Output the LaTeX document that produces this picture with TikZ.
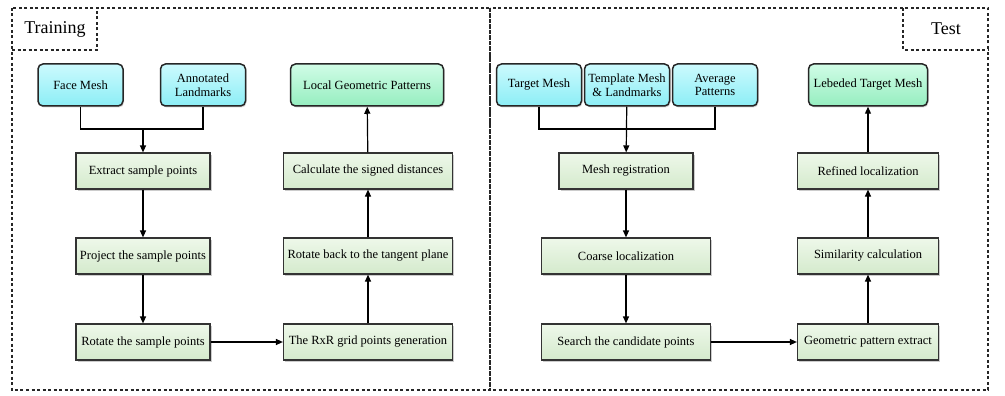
\documentclass[tikz,border=0pt]{standalone}
\usepackage{fontspec}
\setmainfont{Liberation Serif}
\usetikzlibrary{shadows,arrows.meta}
\definecolor{intop}{HTML}{CCFAFD}
\definecolor{inbot}{HTML}{8CEEF6}
\definecolor{outtop}{HTML}{D0FCE6}
\definecolor{outbot}{HTML}{96EEC0}
\definecolor{steptop}{HTML}{EEF8EA}
\definecolor{stepbot}{HTML}{D4EACC}

\begin{document}
\begin{tikzpicture}[x=1pt,y=-1pt,
    every node/.style={font=\fontsize{12.5}{13.5}\selectfont, align=center, inner sep=1pt},
    frame/.style={dash pattern=on 3pt off 2.5pt, line width=1.1pt, black!85},
    inbox/.style={draw=black!85, line width=1.5pt, rounded corners=5pt,
        top color=intop, bottom color=inbot, minimum width=85pt, minimum height=42pt,
        drop shadow={shadow xshift=1pt, shadow yshift=-1.5pt, opacity=0.35}},
    outbox/.style={inbox, top color=outtop, bottom color=outbot},
    stepbox/.style={draw=black!80, line width=1.2pt, top color=steptop, bottom color=stepbot,
        minimum height=36pt,
        drop shadow={shadow xshift=1.5pt, shadow yshift=-1.5pt, opacity=0.4}},
    arr/.style={-{Triangle[length=7pt,width=6pt]}, line width=1.2pt},
    link/.style={line width=1.2pt}]

    \useasboundingbox (0,0) rectangle (1005,396);

    % frames
    \draw[frame] (12,8) rectangle (490,390);
    \draw[frame] (490,8) rectangle (988,390);
    \draw[frame] (12,50) -- (97,50) -- (97,8);
    \draw[frame] (903,8) -- (903,50) -- (988,50);
    \node at (55,29) (train) {\fontsize{18}{19}\selectfont Training};
    \node at (946,29) (test) {\fontsize{18}{19}\selectfont Test};

    % training
    \node[inbox] at (80.5,85) (face) {Face Mesh};
    \node[inbox] at (203,85) (annot) {Annotated\\Landmarks};
    \node[outbox, minimum width=153pt] at (367,85) (local) {Local Geometric Patterns};
    \node[stepbox, minimum width=134pt] at (143,171) (extract) {Extract sample points};
    \node[stepbox, minimum width=134pt] at (143,256) (project) {Project the sample points};
    \node[stepbox, minimum width=134pt] at (143,342) (rotate) {Rotate the sample points};
    \node[stepbox, minimum width=169pt] at (368,342) (grid) {The RxR grid points generation};
    \node[stepbox, minimum width=169pt] at (368,256) (back) {Rotate back to the tangent plane};
    \node[stepbox, minimum width=169pt] at (368,171) (signed) {Calculate the signed distances};

    \coordinate (tj) at (143,129);
    \draw[link] (face) |- (tj);
    \draw[link] (annot) |- (tj);
    \draw[arr] (tj) -- (extract);
    \draw[arr] (extract) -- (project);
    \draw[arr] (project) -- (rotate);
    \draw[arr] (rotate) -- (grid);
    \draw[arr] (grid) -- (back);
    \draw[arr] (back) -- (signed);
    \draw[arr] (signed) -- (local);

    % test
    \node[inbox] at (539,85) (target) {Target Mesh};
    \node[inbox] at (627,85) (templ) {Template Mesh\\\& Landmarks};
    \node[inbox] at (715,85) (avg) {Average\\Patterns};
    \node[outbox, minimum width=119pt] at (868,85) (label) {Lebeded Target Mesh};
    \node[stepbox, minimum width=134pt] at (626,171) (reg) {Mesh registration};
    \node[stepbox, minimum width=169pt] at (626,256) (coarse) {Coarse localization};
    \node[stepbox, minimum width=169pt] at (626,342) (search) {Search the candidate points};
    \node[stepbox, minimum width=141pt] at (868,342) (extr) {Geometric pattern extract};
    \node[stepbox, minimum width=141pt] at (868,256) (simil) {Similarity calculation};
    \node[stepbox, minimum width=141pt] at (868,171) (refine) {Refined localization};

    \coordinate (sj) at (627,129);
    \draw[link] (target) |- (sj);
    \draw[link] (avg) |- (sj);
    \draw[arr] (templ) -- (reg);
    \draw[arr] (reg) -- (coarse);
    \draw[arr] (coarse) -- (search);
    \draw[arr] (search) -- (extr);
    \draw[arr] (extr) -- (simil);
    \draw[arr] (simil) -- (refine);
    \draw[arr] (refine) -- (label);
\end{tikzpicture}
\end{document}
